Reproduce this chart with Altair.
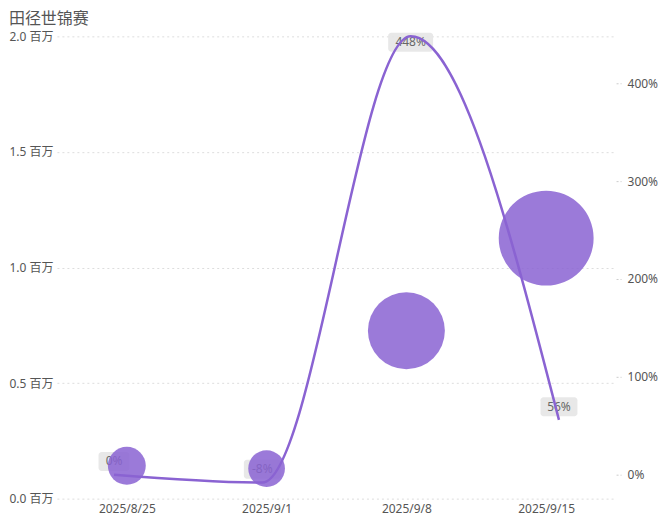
import altair as alt
import pandas as pd

dates = ["2025/8/25", "2025/9/1", "2025/9/8", "2025/9/15"]
volume = [142000, 130000, 726000, 1127000]
growth = [0, -8, 448, 56]

df = pd.DataFrame({
    "date": dates,
    "volume": volume,
    "growth": growth,
    "label": [f"{g}%" for g in growth],
})

FONT = "'Noto Sans', 'Noto Sans CJK SC', sans-serif"
PURPLE = "#8a63d2"

base = alt.Chart(df)

x_line = alt.X("date:O", scale=alt.Scale(type="point", domain=dates, padding=0.385), axis=None)
y_growth_scale = alt.Scale(domain=[-24.5, 448], nice=False, zero=False)

lab = base.transform_calculate(ly="min(datum.growth + 13.5, 442)")
y_lab = alt.Y("ly:Q", scale=y_growth_scale, axis=None)

rects = []
for n, w in [(2, 31), (3, 37), (4, 45)]:
    rects.append(
        lab.transform_filter(f"length(datum.label) == {n}")
        .mark_rect(width=w, height=19, cornerRadius=3, color="#e6e6e6", opacity=0.9)
        .encode(x=x_line, y=y_lab)
    )

texts = lab.mark_text(fontSize=12, color="#666", font=FONT, baseline="middle").encode(
    x=x_line, y=y_lab, text="label:N"
)

bubbles = base.mark_circle(color=PURPLE, opacity=0.85).encode(
    x=alt.X(
        "date:O",
        scale=alt.Scale(type="point", domain=dates, padding=0.5),
        axis=alt.Axis(title=None, labelAngle=0, ticks=False, domain=False, grid=False,
                      labelPadding=5, labelColor="#555", labelFontSize=12, labelFont=FONT),
    ),
    y=alt.Y(
        "volume:Q",
        scale=alt.Scale(domain=[0, 2000000], nice=False),
        axis=alt.Axis(title=None, values=[0, 500000, 1000000, 1500000, 2000000],
                      labelExpr="format(datum.value / 1000000, '.1f') + ' 百万'",
                      grid=True, gridDash=[2, 3], gridColor="#dddddd", domain=False, ticks=False,
                      labelPadding=4, labelColor="#555", labelFontSize=12, labelFont=FONT),
    ),
    size=alt.Size("volume:Q", scale=alt.Scale(domain=[0, 1200000], range=[350, 9590]), legend=None),
)

line = base.mark_line(interpolate="monotone", color=PURPLE, strokeWidth=2.5).encode(
    x=x_line,
    y=alt.Y(
        "growth:Q",
        scale=y_growth_scale,
        axis=alt.Axis(orient="right", title=None, values=[0, 100, 200, 300, 400],
                      labelExpr="datum.value + '%'", grid=False, domain=False,
                      ticks=True, tickDash=[2, 2], tickColor="#cccccc", tickSize=5,
                      labelPadding=6, labelColor="#555", labelFontSize=12, labelFont=FONT),
    ),
)

chart = (
    alt.layer(*rects, texts, bubbles, line)
    .resolve_scale(x="independent", y="independent")
    .properties(
        width=560,
        height=463,
        padding={"left": 0, "top": 3, "right": 0, "bottom": 3},
        title=alt.TitleParams("田径世锦赛", anchor="start", frame="bounds", fontSize=16,
                              color="#555", fontWeight="normal", font=FONT, offset=3),
    )
    .configure_view(stroke=None)
)

chart.save("out.html", embed_options={"renderer": "svg", "actions": False})
